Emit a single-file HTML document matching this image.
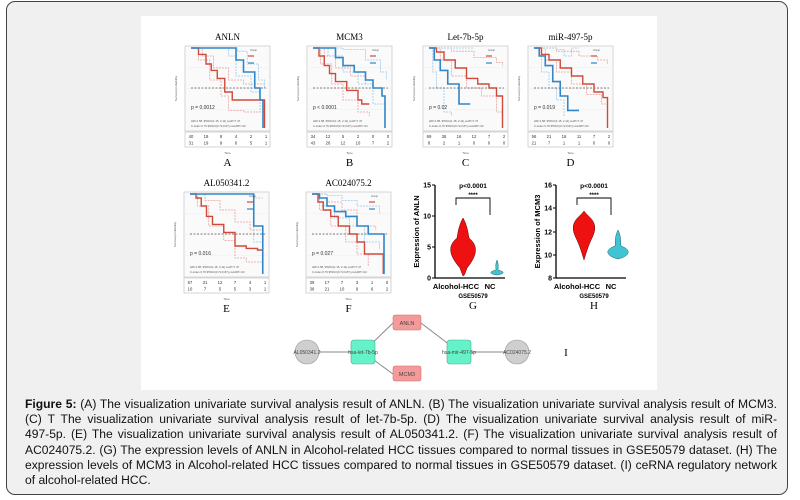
<!DOCTYPE html>
<html><head><meta charset="utf-8"><style>
body{margin:0;width:800px;height:500px;background:#fff;overflow:hidden;font-family:"Liberation Sans",Arial,sans-serif}
#box{position:absolute;left:6px;top:1px;width:780px;height:492px;border:1.5px solid #444;border-radius:9px;background:#f0f0f0}
#panel{position:absolute;left:141px;top:16px;width:516px;height:374px;background:#fff}
#cap{position:absolute;left:25px;top:397px;width:752px;font-size:12.1px;line-height:15.2px;color:#111}
#cap div{text-align:justify;text-align-last:justify;white-space:nowrap}
#cap div.l{text-align-last:left}
svg{position:absolute;left:0;top:0}
</style></head><body>
<div id="box"></div>
<div id="panel"></div>
<div id="cap">
<div><b>Figure 5:</b> (A) The visualization univariate survival analysis result of ANLN. (B) The visualization univariate survival analysis result of MCM3.</div>
<div>(C) T The visualization univariate survival analysis result of let-7b-5p. (D) The visualization univariate survival analysis result of miR-</div>
<div>497-5p. (E) The visualization univariate survival analysis result of AL050341.2. (F) The visualization univariate survival analysis result of</div>
<div>AC024075.2. (G) The expression levels of ANLN in Alcohol-related HCC tissues compared to normal tissues in GSE50579 dataset. (H) The</div>
<div>expression levels of MCM3 in Alcohol-related HCC tissues compared to normal tissues in GSE50579 dataset. (I) ceRNA regulatory network</div>
<div class="l">of alcohol-related HCC.</div>
</div>
<svg id="s" width="800" height="500" xmlns="http://www.w3.org/2000/svg"></svg>
<script>
var S=document.getElementById('s'),out='';
function step(x0,y0,w,h,pts){var d='';pts.forEach(function(p,i){var x=x0+p[0]*w,y=y0+(1-p[1])*h;if(i==0)d='M'+x+' '+y;else d+=' H'+x+' V'+y;});return d;}
function km(x0,y0,title,letter,red,blue,rd,bd,nums,pv){
 var w=85,h=85;
 out+='<text x="'+(x0+w/2)+'" y="'+(y0-6)+'" font-family="Liberation Serif" font-size="9" text-anchor="middle">'+title+'</text>';
 out+='<rect x="'+x0+'" y="'+y0+'" width="'+w+'" height="'+h+'" fill="#fafafa" stroke="#ccc" stroke-width="0.8"/>';
 for(var i=1;i<4;i++)out+='<line x1="'+x0+'" x2="'+(x0+w)+'" y1="'+(y0+i*h/4)+'" y2="'+(y0+i*h/4)+'" stroke="#eee" stroke-width="0.6"/>';
 var ix=x0+6,iw=w-10,iy=y0+2,ih=h-5;
 out+='<path d="'+step(ix,iy,iw,ih,rd[0])+'" fill="none" stroke="#e8a0a0" stroke-width="0.8" stroke-dasharray="2,1"/>';
 out+='<path d="'+step(ix,iy,iw,ih,rd[1])+'" fill="none" stroke="#e8a0a0" stroke-width="0.8" stroke-dasharray="2,1"/>';
 out+='<path d="'+step(ix,iy,iw,ih,bd[0])+'" fill="none" stroke="#9cc8ea" stroke-width="0.8" stroke-dasharray="2,1"/>';
 out+='<path d="'+step(ix,iy,iw,ih,bd[1])+'" fill="none" stroke="#9cc8ea" stroke-width="0.8" stroke-dasharray="2,1"/>';
 out+='<line x1="'+ix+'" x2="'+(ix+iw)+'" y1="'+(iy+ih/2)+'" y2="'+(iy+ih/2)+'" stroke="#555" stroke-width="0.7" stroke-dasharray="2,1.5"/>';
 out+='<path d="'+step(ix,iy,iw,ih,red)+'" fill="none" stroke="#cf4a3a" stroke-width="1.4"/>';
 out+='<path d="'+step(ix,iy,iw,ih,blue)+'" fill="none" stroke="#2f86c8" stroke-width="1.6"/>';
 out+='<line x1="'+(x0+w-22)+'" x2="'+(x0+w-16)+'" y1="'+(y0+10)+'" y2="'+(y0+10)+'" stroke="#cf4a3a" stroke-width="1.2"/><line x1="'+(x0+w-22)+'" x2="'+(x0+w-16)+'" y1="'+(y0+17)+'" y2="'+(y0+17)+'" stroke="#2f86c8" stroke-width="1.2"/>';
 out+='<text x="'+(x0+w-20)+'" y="'+(y0+5)+'" font-size="2.5" fill="#555">Group</text>';
 out+='<text x="'+(x0+6)+'" y="'+(y0+h-22)+'" font-size="5" fill="#333">'+pv+'</text>';
 out+='<text x="'+(x0+6)+'" y="'+(y0+h-9)+'" font-size="2.8" fill="#555">HR=1.58, 95%CI(1.15, 2.11),coxP=7.47</text>';
 out+='<text x="'+(x0+6)+'" y="'+(y0+h-4)+'" font-size="2.8" fill="#555">C-index 0.76 95%CI(0.72,0.87),coxLRP=.02</text>';
 out+='<rect x="'+x0+'" y="'+(y0+h+1)+'" width="'+w+'" height="15" fill="#fff" stroke="#ccc" stroke-width="0.8"/>';
 for(var r=0;r<2;r++)for(var c=0;c<6;c++)out+='<text x="'+(ix+c*iw/5)+'" y="'+(y0+h+7+r*6.5)+'" font-size="4.2" text-anchor="middle" fill="#333">'+nums[r][c]+'</text>';
 out+='<text x="'+(x0+w/2)+'" y="'+(y0+h+23)+'" font-size="3" text-anchor="middle" fill="#555">Time</text>';
 out+='<text x="'+(x0-8)+'" y="'+(y0+h/2)+'" font-size="3" fill="#555" transform="rotate(-90 '+(x0-8)+' '+(y0+h/2)+')" text-anchor="middle">Survival probability</text>';
 out+='<text x="'+(x0+w/2)+'" y="'+(y0+h+35)+'" font-family="Liberation Serif" font-size="11" text-anchor="middle">'+letter+'</text>';
}
function dec(a){var p=[[0,1]];a.forEach(function(v){p.push([v[0],v[1]]);});return p;}
km(185,46,'ANLN','A',
 dec([[.1,.92],[.2,.8],[.27,.72],[.35,.62],[.45,.45],[.55,.35],[.8,.35],[.98,.35],[.98,0]]),
 dec([[.55,1],[.6,.85],[.7,.7],[.85,.5],[.92,.35],[.96,0]]),
 [dec([[.15,.9],[.3,.75],[.5,.6],[.7,.55],[.98,.5]]),dec([[.1,.85],[.25,.6],[.4,.4],[.5,.22],[.7,.2],[.98,.2]])],
 [dec([[.62,.96],[.75,.8],[.9,.6],[.98,.5]]),dec([[.5,.9],[.6,.65],[.8,.45],[.92,.2]])],
 [[40,19,8,4,2,1],[31,19,9,6,5,1]],'p = 0.0012');
km(307,46,'MCM3','B',
 dec([[.08,.9],[.15,.78],[.22,.68],[.3,.58],[.45,.47],[.6,.35],[.65,.3],[.75,.3]]),
 dec([[.15,1],[.3,.88],[.4,.78],[.55,.7],[.7,.6],[.8,.5],[.92,.4],[.96,0]]),
 [dec([[.15,.9],[.3,.75],[.5,.65],[.7,.55]]),dec([[.1,.8],[.25,.55],[.4,.35],[.6,.2],[.75,.15]])],
 [dec([[.4,.98],[.7,.85],[.9,.7],[.98,.6]]),dec([[.2,.9],[.4,.7],[.6,.55],[.8,.3],[.96,0]])],
 [[34,12,5,2,0,0],[43,26,12,10,7,2]],'p &lt; 0.0001');
km(423,46,'Let-7b-5p','C',
 dec([[.1,.95],[.2,.85],[.35,.75],[.5,.62],[.65,.55],[.8,.5],[.9,.4],[.98,0]]),
 dec([[.07,.85],[.15,.72],[.25,.55],[.4,.3],[.55,.3]]),
 [dec([[.3,.96],[.6,.88],[.9,.82],[.98,.78]]),dec([[.15,.85],[.3,.65],[.5,.5],[.7,.4],[.9,.2],[.98,0]])],
 [dec([[.4,1],[.6,1]]),dec([[.05,.7],[.1,.5],[.2,.2],[.3,.15]])],
 [[69,36,16,12,7,2],[8,2,1,0,0,0]],'p = 0.02');
km(528,46,'miR-497-5p','D',
 dec([[.1,.92],[.2,.85],[.35,.75],[.5,.65],[.65,.55],[.8,.45],[.92,.38],[.98,0]]),
 dec([[.07,.9],[.15,.78],[.25,.58],[.35,.4],[.45,.22],[.6,.22]]),
 [dec([[.3,.96],[.6,.9],[.85,.85],[.98,.8]]),dec([[.15,.85],[.3,.7],[.5,.55],[.7,.42],[.9,.3],[.98,.05]])],
 [dec([[.3,.98],[.4,.9],[.5,1],[.6,1]]),dec([[.1,.7],[.2,.5],[.3,.35],[.4,.15]])],
 [[56,21,16,11,7,2],[21,7,1,1,0,0]],'p = 0.019');
km(184,192,'AL050341.2','E',
 dec([[.08,.95],[.15,.85],[.22,.72],[.3,.62],[.45,.52],[.6,.35],[.75,.32],[.9,.3],[.97,0]]),
 dec([[.85,1],[.85,.6],[.97,.6],[.97,0]]),
 [dec([[.2,.92],[.4,.8],[.6,.65],[.8,.55],[.97,.45]]),dec([[.1,.85],[.25,.6],[.45,.42],[.6,.2],[.75,.15],[.97,.05]])],
 [dec([[.85,.95],[.97,.95]]),dec([[.85,.4],[.97,.4]])],
 [[67,31,12,7,4,1],[10,7,5,5,3,1]],'p = 0.016');
km(306,192,'AC024075.2','F',
 dec([[.08,.9],[.15,.8],[.25,.72],[.35,.6],[.5,.5],[.6,.4],[.7,.25],[.85,.25],[.95,0]]),
 dec([[.1,.95],[.2,.85],[.3,.78],[.45,.72],[.6,.6],[.75,.5],[.9,.5],[.96,0]]),
 [dec([[.2,.9],[.4,.8],[.6,.6],[.85,.55]]),dec([[.1,.8],[.25,.6],[.45,.4],[.6,.25],[.75,.1]])],
 [dec([[.2,.98],[.4,.92],[.6,.85],[.9,.75]]),dec([[.1,.85],[.3,.7],[.5,.6],[.7,.4],[.9,.3]])],
 [[39,17,7,3,1,0],[38,21,10,9,6,2]],'p = 0.027');
function vio(ax,top,bot,ticks,ylab,letter,red,cyan){
 out+='<line x1="'+ax+'" x2="'+ax+'" y1="'+top+'" y2="'+bot+'" stroke="#000" stroke-width="1.3"/><line x1="'+ax+'" x2="'+(ax+70)+'" y1="'+bot+'" y2="'+bot+'" stroke="#000" stroke-width="1.3"/>';
 ticks.forEach(function(t){out+='<line x1="'+(ax-3)+'" x2="'+ax+'" y1="'+t[1]+'" y2="'+t[1]+'" stroke="#000"/><text x="'+(ax-4)+'" y="'+(t[1]+2.5)+'" font-size="7" font-weight="bold" text-anchor="end">'+t[0]+'</text>';});
 out+='<text x="'+(ax-16)+'" y="'+((top+bot)/2)+'" font-size="7.5" font-weight="bold" text-anchor="middle" transform="rotate(-90 '+(ax-16)+' '+((top+bot)/2)+')">'+ylab+'</text>';
 out+='<path d="'+red+'" fill="#ee1111" stroke="#600" stroke-width="0.5"/><path d="'+cyan+'" fill="#40c4d4" stroke="#266" stroke-width="0.5"/>';
 out+='<text x="'+(ax+21)+'" y="'+(bot+11)+'" font-size="7.5" font-weight="bold" text-anchor="middle">Alcohol-HCC</text><text x="'+(ax+55)+'" y="'+(bot+11)+'" font-size="7.5" font-weight="bold" text-anchor="middle">NC</text>';
 out+='<text x="'+(ax+38)+'" y="'+(bot+20)+'" font-size="6" font-weight="bold" text-anchor="middle">GSE50579</text>';
 out+='<text x="'+(ax+38)+'" y="'+(top+3)+'" font-size="6.5" font-weight="bold" text-anchor="middle">p&lt;0.0001</text>';
 out+='<path d="M'+(ax+21)+' '+(top+20)+' V'+(top+13)+' H'+(ax+55)+' V'+(top+30)+'" fill="none" stroke="#000" stroke-width="0.9"/><text x="'+(ax+38)+'" y="'+(top+12)+'" font-size="6" font-weight="bold" text-anchor="middle">****</text>';
 out+='<text x="'+(ax+38)+'" y="'+(bot+31)+'" font-family="Liberation Serif" font-size="11" text-anchor="middle">'+letter+'</text>';
}
vio(435,185,278,[[15,185],[10,216],[5,247],[0,278]],'Expression of ANLN','G',
 'M463 218 C459 225 458 232 457 238 C450 244 446 252 460 268 C462 274 463 276 463 276 C464 276 465 274 467 268 C480 252 476 244 469 238 C468 232 467 225 463 218Z',
 'M497 260 C495 265 496 268 496 270 C488 272 490 274 497 275 C504 274 506 272 498 270 C498 268 499 265 497 260Z');
vio(556,185,278,[[16,185],[14,208],[12,232],[10,255],[8,278]],'Expression of MCM3','H',
 'M584 211 C579 218 568 222 576 238 C579 244 581 250 584 260 C587 250 589 244 592 238 C600 222 589 218 584 211Z',
 'M618 230 C614 238 616 242 615 246 C604 250 606 256 618 259 C630 256 632 250 621 246 C620 242 622 238 618 230Z');
out+='<line x1="307" y1="352" x2="363" y2="352" stroke="#888" stroke-width="1"/><line x1="363" y1="352" x2="393" y2="323" stroke="#888"/><line x1="363" y1="352" x2="393" y2="374" stroke="#888"/><line x1="459" y1="352" x2="421" y2="323" stroke="#888"/><line x1="459" y1="352" x2="517" y2="352" stroke="#888"/>';
out+='<circle cx="307" cy="352" r="12" fill="#cfcfcf" stroke="#999" stroke-width="0.6"/><circle cx="517" cy="352" r="12" fill="#cfcfcf" stroke="#999" stroke-width="0.6"/>';
out+='<rect x="351" y="340" width="24" height="24" rx="3" fill="#66f2c8" stroke="#4a9" stroke-width="0.6"/><rect x="447" y="340" width="24" height="24" rx="3" fill="#66f2c8" stroke="#4a9" stroke-width="0.6"/>';
out+='<rect x="393" y="315" width="28" height="15" rx="2" fill="#f49a9a" stroke="#c66" stroke-width="0.5"/><rect x="393" y="366" width="28" height="15" rx="2" fill="#f49a9a" stroke="#c66" stroke-width="0.5"/>';
[['AL050341.2',307],['hsa-let-7b-5p',363],['hsa-mir-497-5p',459],['AC024075.2',517]].forEach(function(t){out+='<text x="'+t[1]+'" y="354" font-size="5" text-anchor="middle" fill="#444">'+t[0]+'</text>';});
out+='<text x="407" y="325" font-size="5.5" text-anchor="middle" fill="#444">ANLN</text><text x="407" y="376" font-size="5.5" text-anchor="middle" fill="#444">MCM3</text>';
out+='<text x="566" y="356" font-family="Liberation Serif" font-size="11" text-anchor="middle">I</text>';
S.innerHTML=out;
</script>
</body></html>
